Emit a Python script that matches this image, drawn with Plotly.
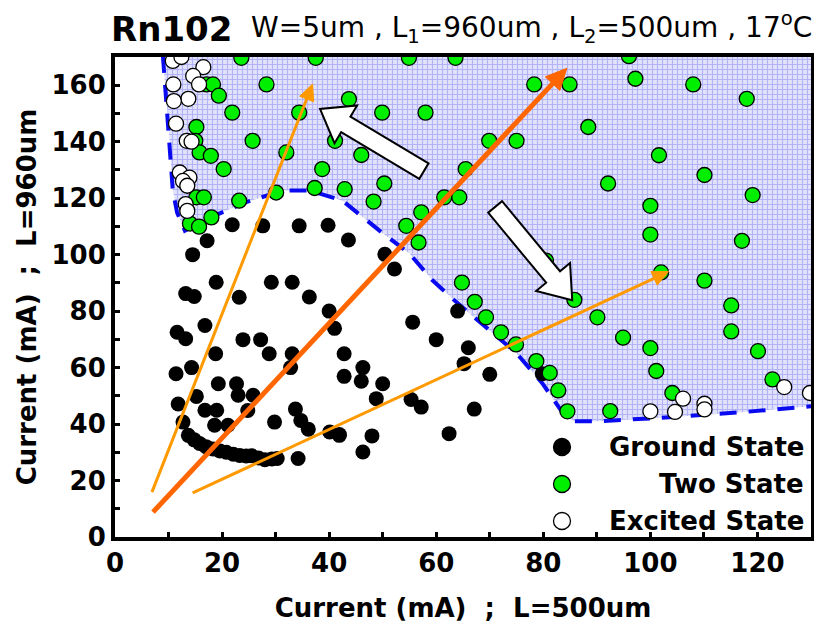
import math
import plotly.graph_objects as go

# ---- measured operating points (x: current on L=500um section, y: current on L=960um section) ----
ground_x = [21.9, 27.6, 34.4, 39.8, 17.2, 43.6, 14.5, 50.4, 18.9, 29.2, 33.1, 52.2,
            13.2, 14.8, 23.2, 36.3, 40.0, 41.0, 16.8, 11.6, 13.2, 23.9, 27.2,
            18.8, 28.8, 33.1, 42.8, 14.3, 32.8, 11.4, 42.8,
            19.3, 22.7, 23.0, 25.8, 15.2, 11.8, 16.8, 19.0, 24.8, 33.7,
            18.6, 21.1, 12.7, 29.8, 34.7, 36.1, 40.1, 41.9, 34.2,
            13.7, 14.8, 15.8, 17.0, 18.3, 19.6, 20.8, 22.1, 23.3, 24.5, 25.5, 26.8, 28.0, 29.3, 30.3,
            46.3, 48.0, 62.4, 67.1, 57.2, 55.3,
            64.0, 55.6, 60.0, 66.0, 65.2, 46.3, 46.0, 50.0, 48.8, 70.0, 79.8, 41.9]
ground_y = [110.6, 110.2, 110.2, 110.4, 104.9, 105.2, 100.0, 100.1, 90.2, 90.2, 90.2, 94.9,
            86.2, 85.2, 84.9, 85.0, 80.0, 73.9, 74.9, 72.5, 70.2, 69.9, 69.9,
            64.9, 64.9, 64.9, 64.9, 60.0, 60.0, 57.8, 56.9,
            54.3, 54.3, 50.2, 50.2, 49.8, 47.1, 44.9, 44.9, 44.8, 45.3,
            39.6, 39.6, 40.7, 40.7, 41.3, 38.2, 37.2, 36.0, 27.8,
            36.0, 34.4, 33.1, 32.0, 31.2, 30.5, 30.0, 29.3, 28.9, 28.7, 28.8, 28.0, 27.4, 27.6, 27.8,
            30.1, 35.8, 36.6, 45.3, 46.0, 48.7,
            80.0, 76.1, 69.9, 67.0, 61.4, 60.0, 55.2, 54.3, 49.0, 57.6, 57.8, 36.3]

two_x = [23.6, 37.5, 54.9, 63.6, 96.0,
         17.1, 18.3, 28.3, 78.3, 84.9, 97.2, 108.0,
         19.4, 43.7, 118.0,
         21.9, 34.4, 49.9, 58.0,
         15.2, 88.4,
         15.0, 25.7, 41.1, 69.9, 75.0,
         15.8, 17.9, 32.0, 46.0, 101.6,
         20.3, 38.7, 65.5, 110.1,
         37.3, 42.9, 50.3, 92.1, 30.1, 119.1,
         15.2, 16.6, 23.2, 48.3, 61.5, 64.3, 100.0,
         57.2, 18.0, 14.0, 15.7, 54.4,
         56.7, 100.0, 117.1, 80.5,
         102.0, 110.1, 64.8,
         67.2, 85.8, 115.1, 69.3, 90.1, 72.1, 115.1, 94.9, 74.9, 100.0, 120.1,
         78.7, 81.2, 101.1, 122.8, 82.8, 104.1, 84.5, 92.5]
two_y = [169.7, 169.7, 169.7, 169.7, 170.3,
         160.3, 160.3, 160.3, 160.3, 160.3, 162.3, 160.3,
         156.3, 155.1, 155.2,
         150.3, 150.3, 150.3, 150.3,
         145.2, 145.2,
         140.3, 140.3, 140.3, 140.3, 140.3,
         136.2, 135.0, 136.2, 135.3, 135.2,
         130.3, 130.3, 130.3, 128.2,
         123.6, 123.2, 125.2, 125.2, 122.0, 121.1,
         120.3, 120.3, 119.1, 118.8, 120.3, 120.3, 117.3,
         115.0, 113.2, 111.0, 109.9, 110.2,
         104.3, 107.1, 104.9, 97.9,
         93.7, 90.8, 90.1,
         83.3, 84.0, 82.0, 77.8, 77.8, 72.5, 72.8, 70.6, 68.2, 66.9, 65.8,
         62.3, 58.1, 58.8, 55.8, 51.9, 51.0, 44.5, 44.6]

excited_x = [10.8, 12.4, 16.5, 14.6, 15.7, 10.9, 13.7, 11.0, 11.4, 13.4, 14.3,
             12.1, 13.9, 12.7, 13.5, 13.2, 13.5,
             125.0, 129.8, 106.1, 104.6, 100.0, 110.1, 110.1]
excited_y = [168.6, 170.0, 166.4, 163.3, 160.3, 160.3, 155.2, 154.4, 146.4, 140.3, 140.0,
             129.1, 127.3, 126.1, 124.4, 117.9, 115.5,
             53.1, 51.0, 49.0, 44.3, 44.5, 47.2, 45.2]

# ---- boundary of the two-state region (dashed line) ----
edge_x = [8.95, 9.3, 9.9, 10.3, 10.8, 11.6, 13.05, 17.7, 24.2, 31.3, 36.4, 42.5, 49.4,
          55.0, 59.3, 63.8, 69.4, 75.0, 79.8, 83.9, 85.8, 90.5, 103.5, 117.1, 130.0]
edge_y = [170.4, 161.5, 148.4, 136.8, 122.7, 114.9, 108.5, 113.1, 118.4, 122.7, 122.7, 119.1, 108.5,
          100.4, 90.9, 83.1, 73.9, 65.1, 54.5, 43.2, 41.0, 41.0, 42.4, 44.2, 46.3]

# ---- guide arrows (tail -> tip, data units) ----
thin_arrows = [((6.9, 15.9), (36.9, 160.4)), ((14.5, 15.6), (103.4, 94.0))]
thick_arrow = ((7.1, 8.8), (84.4, 166.0))
block_arrows = [((57.7, 129.6), (38.3, 151.6)), ((71.0, 116.9), (85.4, 83.9))]

X_RANGE = [0, 130]
Y_RANGE = [0, 170]
W, H = 814, 623
M = dict(l=115, r=3, t=57, b=86)
PLOT_W = W - M["l"] - M["r"]
PLOT_H = H - M["t"] - M["b"]
SX = PLOT_W / (X_RANGE[1] - X_RANGE[0])
SY = PLOT_H / (Y_RANGE[1] - Y_RANGE[0])

FONT = "DejaVu Sans"


def to_px(p):
    return p[0] * SX, -p[1] * SY


def to_data(q):
    return q[0] / SX, -q[1] / SY


def path_of(points):
    pts = [to_data(q) for q in points]
    return "M " + " L ".join(f"{x:.3f},{y:.3f}" for x, y in pts) + " Z"


def arrow_geometry(tail, tip, head_len):
    tx, ty = to_px(tail)
    hx, hy = to_px(tip)
    L = math.hypot(hx - tx, hy - ty)
    dx, dy = (hx - tx) / L, (hy - ty) / L
    return (tx, ty), (hx, hy), (dx, dy), (-dy, dx), (hx - head_len * dx, hy - head_len * dy)


def block_arrow_path(tail, tip, shaft=9, head_len=30, head_half=22):
    (tx, ty), (hx, hy), _, (nx, ny), (bx, by) = arrow_geometry(tail, tip, head_len)
    return path_of([
        (tx + shaft * nx, ty + shaft * ny),
        (bx + shaft * nx, by + shaft * ny),
        (bx + head_half * nx, by + head_half * ny),
        (hx, hy),
        (bx - head_half * nx, by - head_half * ny),
        (bx - shaft * nx, by - shaft * ny),
        (tx - shaft * nx, ty - shaft * ny),
    ])


def line_arrow_shapes(tail, tip, color, width, head_len, head_half):
    (tx, ty), (hx, hy), _, (nx, ny), (bx, by) = arrow_geometry(tail, tip, head_len)
    bdx, bdy = to_data((bx, by))
    shaft = dict(type="line", xref="x", yref="y", x0=tail[0], y0=tail[1], x1=bdx, y1=bdy,
                 line=dict(color=color, width=width), layer="above")
    head = dict(type="path", xref="x", yref="y", fillcolor=color, line=dict(color=color, width=1),
                layer="above",
                path=path_of([(bx + head_half * nx, by + head_half * ny), (hx, hy),
                              (bx - head_half * nx, by - head_half * ny)]))
    return [shaft, head]


fig = go.Figure()

# shaded two-state region
region_x = edge_x + [131.0, 131.0, edge_x[0]]
region_y = edge_y + [edge_y[-1], 172.0, 172.0]
fig.add_trace(go.Scatter(
    x=region_x, y=region_y, mode="none", fill="toself",
    fillcolor="#cacdf4",
    fillpattern=dict(shape="+", fgcolor="#8486f4", bgcolor="#e2e3fa", size=5, solidity=0.42),
    hoverinfo="skip", showlegend=False))

fig.add_trace(go.Scatter(
    x=edge_x, y=edge_y, mode="lines",
    line=dict(color="#0a0af0", width=4, dash="17px,12px"),
    hoverinfo="skip", showlegend=False))

marker_line = dict(color="black", width=1.3)
fig.add_trace(go.Scatter(
    x=ground_x, y=ground_y, mode="markers", name="Ground State",
    marker=dict(size=15, color="black", line=dict(color="black", width=0))))
fig.add_trace(go.Scatter(
    x=two_x, y=two_y, mode="markers", name="Two State",
    marker=dict(size=15, color="#00ee00", line=marker_line)))
fig.add_trace(go.Scatter(
    x=excited_x, y=excited_y, mode="markers", name="Excited State",
    marker=dict(size=15, color="white", line=marker_line)))

shapes = []
for tail, tip in thin_arrows:
    shapes += line_arrow_shapes(tail, tip, "#ff9900", 3, 16, 7.5)
shapes += line_arrow_shapes(thick_arrow[0], thick_arrow[1], "#ff6600", 5, 21, 10)

for tail, tip in block_arrows:
    shapes.append(dict(type="path", xref="x", yref="y", path=block_arrow_path(tail, tip),
                       fillcolor="white", line=dict(color="black", width=2), layer="above"))

annotations = []
# legend drawn by hand so the labels can be right-aligned
legend_items = [("Ground State", "black"), ("Two State", "#00ee00"), ("Excited State", "white")]
legend_y_px = [447, 484, 521]
legend_marker_x = (562 - M["l"]) / PLOT_W
legend_text_x = (806 - M["l"]) / PLOT_W
for (label, color), ypx in zip(legend_items, legend_y_px):
    yp = (H - M["b"] - ypx) / PLOT_H
    shapes.append(dict(type="circle", xref="paper", yref="paper", xsizemode="pixel", ysizemode="pixel",
                       xanchor=legend_marker_x, yanchor=yp, x0=-8.5, x1=8.5, y0=-8.5, y1=8.5,
                       fillcolor=color, line=dict(color="black", width=1.3), layer="above"))
    annotations.append(dict(x=legend_text_x, y=yp, xref="paper", yref="paper", xanchor="right",
                            yanchor="middle", showarrow=False, text=f"<b>{label}</b>",
                            font=dict(family=FONT, size=26, color="black")))

# chart heading: sample name and device geometry
annotations.append(dict(x=(109 - M["l"]) / PLOT_W, y=(H - M["b"] - 29) / PLOT_H, xref="paper", yref="paper",
                        xanchor="left", yanchor="middle", showarrow=False, text="<b>Rn102</b>",
                        font=dict(family=FONT, size=34, color="black")))
annotations.append(dict(x=(249 - M["l"]) / PLOT_W, y=(H - M["b"] - 27) / PLOT_H, xref="paper", yref="paper",
                        xanchor="left", yanchor="middle", showarrow=False,
                        text="W=5um , L<sub>1</sub>=960um , L<sub>2</sub>=500um , 17<sup>o</sup>C",
                        font=dict(family=FONT, size=28, color="black")))

axis_common = dict(showgrid=False, zeroline=False, showline=True, linecolor="black", linewidth=4,
                   mirror=True, ticks="inside", ticklen=5, tickwidth=3, tickcolor="black",
                   tickfont=dict(family=FONT, size=26, color="black", weight="bold"),
                   minor=dict(dtick=10, ticks="inside", ticklen=5, tickwidth=3, tickcolor="black"),
                   dtick=20, tick0=0, automargin=False)

fig.update_layout(
    width=W, height=H, margin=dict(**M, pad=0, autoexpand=False),
    paper_bgcolor="white", plot_bgcolor="white",
    showlegend=False,
    xaxis=dict(range=X_RANGE,
               title=dict(text="<b>Current (mA)\u00a0\u00a0;\u00a0\u00a0L=500um</b>", standoff=30,
                          font=dict(family=FONT, size=26, color="black")),
               **axis_common),
    yaxis=dict(range=Y_RANGE,
               title=dict(text="<b>Current (mA)\u00a0\u00a0;\u00a0\u00a0L=960um</b>", standoff=8,
                          font=dict(family=FONT, size=26, color="black")),
               **axis_common),
    annotations=annotations, shapes=shapes,
)

fig.write_html("out.html")
